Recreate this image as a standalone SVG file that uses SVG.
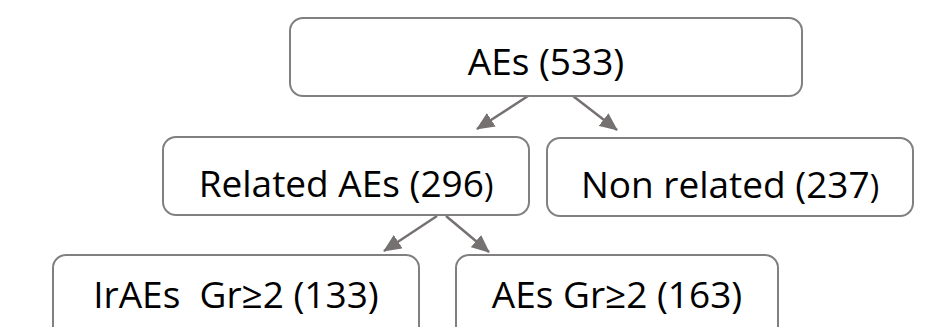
<svg xmlns="http://www.w3.org/2000/svg" width="942" height="327" viewBox="0 0 942 327">
<style>
.box{fill:#ffffff;stroke:#808080;stroke-width:2}
.lbl{font-family:"Open Sans","Noto Sans",sans-serif;font-size:37px;fill:#000000;text-anchor:middle}
.sm{font-size:32px}
.conn{stroke:#767171;stroke-width:2.5;fill:none;marker-end:url(#ah)}
</style>
<defs>
<marker id="ah" markerUnits="userSpaceOnUse" markerWidth="18" markerHeight="16" viewBox="0 0 18 16" refX="17" refY="8" orient="auto">
<path d="M0,0 L18,8 L0,16 Z" fill="#767171"/>
</marker>
</defs>
<rect width="942" height="327" fill="#ffffff"/>
<g id="connectors">
<line class="conn" x1="528" y1="96" x2="477" y2="129"/>
<line class="conn" x1="573" y1="96" x2="617" y2="130"/>
<line class="conn" x1="437" y1="216" x2="384" y2="251"/>
<line class="conn" x1="446" y1="216" x2="489" y2="252"/>
</g>
<g id="node-aes">
<rect class="box" x="290" y="18" width="512" height="78" rx="13"/>
<text class="lbl" x="546" y="75">AEs (533)</text>
</g>
<g id="node-related">
<rect class="box" x="163" y="137" width="366" height="78" rx="13"/>
<text class="lbl" x="346" y="197">Related AEs (296<tspan class="sm">)</tspan></text>
</g>
<g id="node-nonrelated">
<rect class="box" x="547" y="138" width="366" height="78" rx="13"/>
<text class="lbl" x="730" y="198">Non related (237<tspan class="sm">)</tspan></text>
</g>
<g id="node-iraes">
<rect class="box" x="53" y="255" width="366" height="90" rx="13"/>
<text class="lbl" x="236" y="308" xml:space="preserve">IrAEs  Gr≥2 (133)</text>
</g>
<g id="node-aesgr2">
<rect class="box" x="456" y="255" width="322" height="90" rx="13"/>
<text class="lbl" x="617" y="308">AEs Gr≥2 (163)</text>
</g>
</svg>
